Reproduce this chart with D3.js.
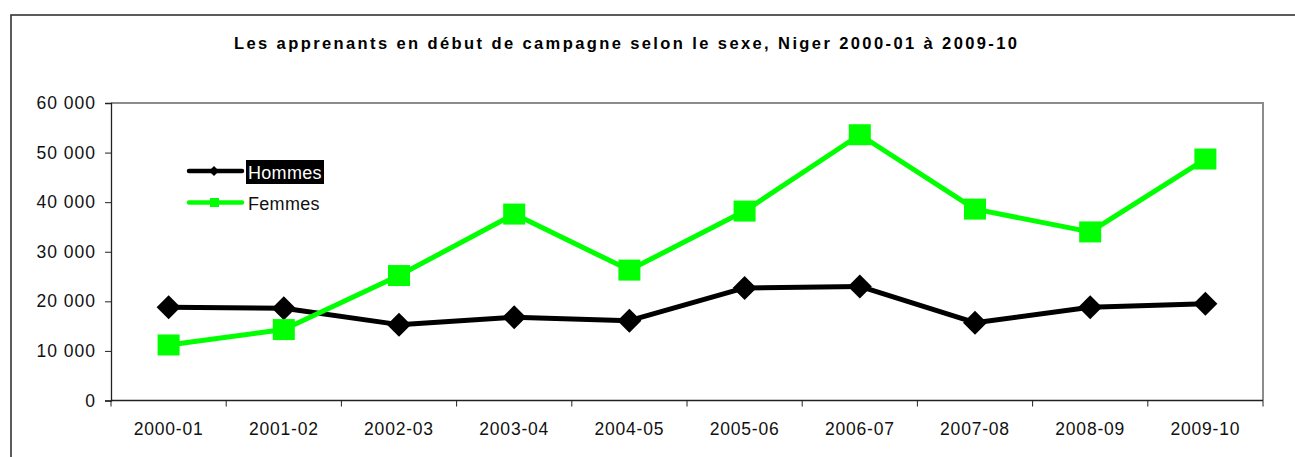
<!DOCTYPE html>
<html>
<head>
<meta charset="utf-8">
<script src="https://cdn.jsdelivr.net/npm/d3@7"></script>
<style>
  body { margin: 0; background: #fff; }
  svg { display: block; font-family: "Liberation Sans", Arial, sans-serif; }
</style>
</head>
<body>
<div id="chart-area"></div>
<script>
// Data
const years = ["2000-01", "2001-02", "2002-03", "2003-04", "2004-05",
  "2005-06", "2006-07", "2007-08", "2008-09", "2009-10"]
const hommes = [18800, 18600, 15300, 16800, 16100, 22700, 23000, 15700, 18800, 19500]
const femmes = [11200, 14300, 25200, 37600, 26300, 38200, 53600, 38600, 34000, 48700]
const yTicks = [0, 10000, 20000, 30000, 40000, 50000, 60000]

const canvas = { width: 1295, height: 457 }
const plot = { left: 111, right: 1263, top: 103, bottom: 400.5 }

const svg = d3.select('#chart-area')
  .append('svg')
    .attr('width', canvas.width)
    .attr('height', canvas.height)

// Outer frame (runs past the right and bottom edges)
svg.append('rect')
  .attr('x', 11).attr('y', 15)
  .attr('width', 1400).attr('height', 600)
  .attr('fill', 'none')
  .attr('stroke', '#333')
  .attr('stroke-width', 1.6)

// Title
svg.append('text')
  .attr('x', 625.5)
  .attr('y', 49)
  .attr('text-anchor', 'middle')
  .attr('font-size', 16.5)
  .attr('font-weight', 'bold')
  .attr('textLength', 783)
  .attr('lengthAdjust', 'spacing')
  .text('Les apprenants en début de campagne selon le sexe, Niger 2000-01 à 2009-10')

// Scales
const x = d3.scaleBand()
  .domain(years)
  .range([plot.left, plot.right])
const y = d3.scaleLinear()
  .domain([0, 60000])
  .range([plot.bottom, plot.top])
const cx = d => x(d) + x.bandwidth() / 2

// Plot frame: gray top and right
svg.append('path')
  .attr('d', `M${plot.left},${plot.top}H${plot.right}V${plot.bottom}`)
  .attr('fill', 'none')
  .attr('stroke', '#8c8c8c')
  .attr('stroke-width', 2)

// Axes
const fmt = d => d3.format(',')(d).replace(/,/g, ' ')
const yAxis = svg.append('g')
  .attr('transform', `translate(${plot.left},0)`)
  .call(d3.axisLeft(y).tickValues(yTicks).tickFormat(fmt).tickSizeOuter(0).tickSize(6).tickPadding(9))
yAxis.select('.domain').attr('stroke', '#222').attr('stroke-width', 1.3)
yAxis.selectAll('.tick line').attr('stroke', '#222')
yAxis.selectAll('text')
  .attr('font-size', 17.5)
  .attr('letter-spacing', 1)
  .attr('fill', '#111')
  .attr('font-family', '"Liberation Sans", Arial, sans-serif')

const boundaries = years.map(d => x(d)).concat([plot.right])
const xAxis = svg.append('g')
  .attr('transform', `translate(0,${plot.bottom})`)
xAxis.append('line')
  .attr('x1', plot.left).attr('x2', plot.right)
  .attr('stroke', '#222').attr('stroke-width', 1.3)
xAxis.selectAll('.tick')
  .data(boundaries)
  .join('line')
    .attr('x1', d => d).attr('x2', d => d)
    .attr('y1', 0).attr('y2', 6)
    .attr('stroke', '#222')
xAxis.selectAll('.lab')
  .data(years)
  .join('text')
    .attr('x', d => cx(d))
    .attr('y', 34)
    .attr('text-anchor', 'middle')
    .attr('font-size', 17.5)
    .attr('letter-spacing', 0.8)
    .attr('fill', '#111')
    .text(d => d)

// Series
const line = d3.line().x((d, i) => cx(years[i])).y(d => y(d))

svg.append('path')
  .datum(hommes)
  .attr('d', line)
  .attr('fill', 'none')
  .attr('stroke', '#000')
  .attr('stroke-width', 5)
  .attr('stroke-linejoin', 'round')
svg.selectAll('.hom')
  .data(hommes)
  .join('path')
    .attr('transform', (d, i) => `translate(${cx(years[i])},${y(d)})`)
    .attr('d', 'M0,-12L12,0L0,12L-12,0Z')
    .attr('fill', '#000')

svg.append('path')
  .datum(femmes)
  .attr('d', line)
  .attr('fill', 'none')
  .attr('stroke', '#00ff00')
  .attr('stroke-width', 5)
  .attr('stroke-linejoin', 'round')
svg.selectAll('.fem')
  .data(femmes)
  .join('rect')
    .attr('x', (d, i) => cx(years[i]) - 11)
    .attr('y', d => y(d) - 10.5)
    .attr('width', 22)
    .attr('height', 21)
    .attr('fill', '#00ff00')

// Legend
const legend = svg.append('g')
// Hommes
legend.append('line')
  .attr('x1', 189).attr('x2', 242).attr('y1', 171).attr('y2', 171)
  .attr('stroke', '#000').attr('stroke-width', 4.5).attr('stroke-linecap', 'round')
legend.append('path')
  .attr('transform', 'translate(214,171)')
  .attr('d', 'M0,-5L5,0L0,5L-5,0Z')
  .attr('fill', '#000')
legend.append('rect')
  .attr('x', 246).attr('y', 160).attr('width', 78).attr('height', 24)
  .attr('fill', '#000')
legend.append('text')
  .attr('x', 248).attr('y', 178.5)
  .attr('font-size', 18)
  .attr('letter-spacing', 0.3)
  .attr('fill', '#fff')
  .text('Hommes')
// Femmes
legend.append('line')
  .attr('x1', 189).attr('x2', 242).attr('y1', 202.5).attr('y2', 202.5)
  .attr('stroke', '#00ff00').attr('stroke-width', 4.5).attr('stroke-linecap', 'round')
legend.append('rect')
  .attr('x', 210).attr('y', 198).attr('width', 9).attr('height', 9)
  .attr('fill', '#00ff00')
legend.append('text')
  .attr('x', 248).attr('y', 209.5)
  .attr('font-size', 18)
  .attr('letter-spacing', 0.3)
  .attr('fill', '#111')
  .text('Femmes')
</script>
</body>
</html>
